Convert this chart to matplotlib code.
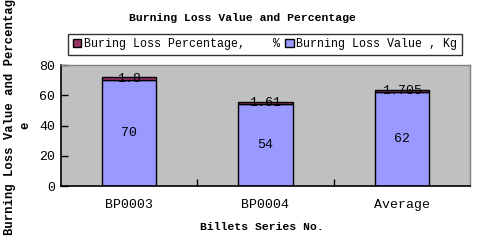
import numpy as np
import matplotlib
matplotlib.use('Agg')
import matplotlib.pyplot as plt

# data
categories = ['BP0003', 'BP0004', 'Average']
loss_value = [70, 54, 62]
loss_pct = [1.8, 1.61, 1.705]
value_labels = ['70', '54', '62']
pct_labels = ['1.8', '1.61', '1.705']

FONT = 'Liberation Mono'
plt.rcParams['font.family'] = [FONT, 'DejaVu Sans']

fig = plt.figure(figsize=(4.87, 2.45), dpi=100)
ax = fig.add_axes([61 / 487, 1 - 186 / 245, 409 / 487, 121 / 245])
ax.set_facecolor('#C0C0C0')

x = np.arange(len(categories))
w = 0.4
b1 = ax.bar(x, loss_value, w, color='#9999FF', edgecolor='black', linewidth=1)
b2 = ax.bar(x, loss_pct, w, bottom=loss_value, color='#993366', edgecolor='black',
            linewidth=1)

for i in range(len(categories)):
    ax.text(x[i], loss_value[i] / 2, value_labels[i], ha='center', va='center', fontsize=9.5)
    ax.text(x[i], loss_value[i] + loss_pct[i] / 2, pct_labels[i], ha='center',
            va='center', fontsize=9.5)

ax.set_xlim(-0.5, 2.5)
ax.set_ylim(0, 80)
ax.set_yticks([0, 20, 40, 60, 80])
ax.set_xticks(x)
ax.set_xticklabels(categories, fontsize=9.5)
ax.set_xticks([0.5, 1.5], minor=True)
ax.tick_params(axis='x', which='major', length=0, pad=9)
ax.tick_params(axis='x', which='minor', direction='in', length=5, width=1, color='black')
ax.tick_params(axis='y', direction='in', length=5, width=1, labelsize=9.5, pad=4)

for s in ['left', 'bottom']:
    ax.spines[s].set_color('black')
    ax.spines[s].set_linewidth(1.2)
for s in ['top', 'right']:
    ax.spines[s].set_color('#808080')
    ax.spines[s].set_linewidth(1)

fig.text(242 / 487, 1 - 18 / 245, 'Burning Loss Value and Percentage',
         ha='center', va='center', fontsize=8.2, fontweight='bold')
fig.text(262 / 487, 1 - 227 / 245, 'Billets Series No.',
         ha='center', va='center', fontsize=8.2, fontweight='bold')
fig.text(10 / 487, 1 - 117 / 245, 'Burning Loss Value and Percentag',
         ha='center', va='center', rotation=90, fontsize=8.8, fontweight='bold')
fig.text(25 / 487, 1 - 125 / 245, 'e', ha='center', va='center', rotation=90,
         fontsize=8.8, fontweight='bold')

leg = fig.legend([b2, b1], ['Buring Loss Percentage,    %', 'Burning Loss Value , Kg'],
                 loc='center', bbox_to_anchor=(265 / 487, 1 - 44.5 / 245), ncol=2,
                 fontsize=8.4, frameon=True, fancybox=False, edgecolor='black',
                 handlelength=0.7, handleheight=0.7, handletextpad=0.2,
                 columnspacing=0.5, borderpad=0.4, borderaxespad=0)
leg.get_frame().set_linewidth(1)

fig.savefig('out.png', dpi=100, facecolor='white')
